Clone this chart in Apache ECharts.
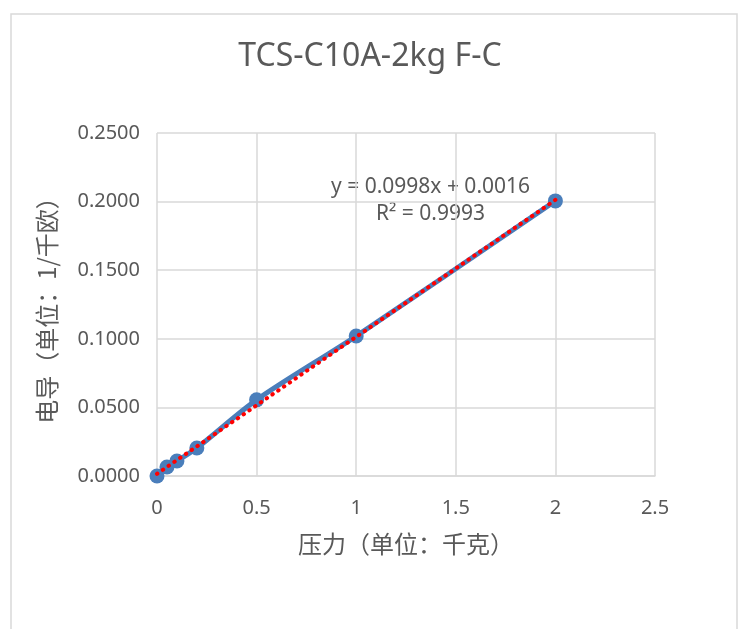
<!DOCTYPE html>
<html><head><meta charset="utf-8">
<script src="https://cdn.jsdelivr.net/npm/echarts@6/dist/echarts.min.js"></script>
<style>html,body{margin:0;padding:0;background:#fff}#c{width:740px;height:629px}</style>
</head><body><div id="c"></div>
<script>
const titleText = 'TCS-C10A-2kg F-C';
const xName = '压力（单位：千克）';
const yName = '电导（单位：1/千欧）';
const pressure = [0, 0.05, 0.1, 0.2, 0.5, 1, 2];
const conductance = [0.0000, 0.0066, 0.0109, 0.0204, 0.0555, 0.1020, 0.2005];
const trendSlope = 0.0998;
const trendIntercept = 0.0016;
const trendX = [0, 2];
const equationLines = ['y = 0.0998x + 0.0016', 'R² = 0.9993'];

const chart = echarts.init(document.getElementById('c'));
const txt = '#595959';
const font = "'Noto Sans', 'Noto Sans CJK SC', sans-serif";
const cjk = "'Noto Sans CJK SC', sans-serif";
const gridLine = {show: true, lineStyle: {color: '#d9d9d9', width: 1.5}};
chart.setOption({
  backgroundColor: '#fff',
  animation: false,
  title: {text: titleText, left: 'center', top: 36,
    textStyle: {color: txt, fontSize: 32, fontWeight: 'normal', fontFamily: font}},
  grid: {left: 157, right: 85, top: 133, bottom: 153},
  xAxis: {type: 'value', min: 0, max: 2.5, interval: 0.5,
    name: xName, nameLocation: 'middle', nameGap: 56,
    nameTextStyle: {color: txt, fontSize: 24, fontFamily: cjk},
    axisLine: {show: true, lineStyle: {color: '#d9d9d9', width: 1.5}},
    axisTick: {show: false},
    axisLabel: {color: txt, fontSize: 20, fontFamily: font, margin: 22},
    splitLine: gridLine},
  yAxis: {type: 'value', min: 0, max: 0.25, interval: 0.05,
    name: yName, nameLocation: 'middle', nameGap: 98,
    nameTextStyle: {color: txt, fontSize: 24, fontFamily: cjk},
    axisLine: {show: false},
    axisTick: {show: false},
    axisLabel: {color: txt, fontSize: 20, fontFamily: font, margin: 17,
      formatter: v => v.toFixed(4)},
    splitLine: gridLine},
  graphic: [
    {type: 'rect', shape: {x: 11, y: 14, width: 726, height: 640},
      style: {fill: 'none', stroke: '#d9d9d9', lineWidth: 1.5}, z: -1},
    {type: 'text', left: 331, top: 177, style: {text: equationLines[0], fill: txt, fontSize: 21, fontFamily: font}},
    {type: 'text', left: 376, top: 204, style: {text: equationLines[1], fill: txt, fontSize: 21, fontFamily: font}}
  ],
  series: [
    {type: 'line', data: pressure.map((p, i) => [p, conductance[i]]),
      smooth: 0.3, symbol: 'circle', symbolSize: 15,
      lineStyle: {color: '#4A7EBB', width: 5},
      itemStyle: {color: '#4A7EBB'}, z: 2},
    {type: 'line', data: trendX.map(x => [x, trendSlope * x + trendIntercept]),
      symbol: 'none', lineStyle: {color: '#FF0000', width: 4, type: [0.5, 6.5], cap: 'round'}, z: 3}
  ]
});
</script></body></html>
